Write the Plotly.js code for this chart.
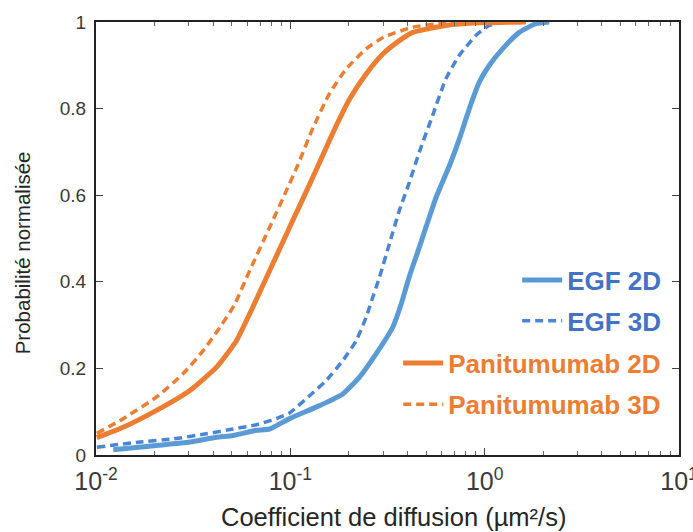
<!DOCTYPE html>
<html>
<head>
<meta charset="utf-8">
<script src="https://cdn.plot.ly/plotly-3.0.1.min.js"></script>
<style>html,body{margin:0;padding:0;background:#fff;}#chart{width:693px;height:532px;}</style>
</head>
<body>
<div id="chart"></div>
<script>
// Diffusion coefficient (µm²/s) and normalized cumulative probability
const egf2dX = [0.01227, 0.0205, 0.0304, 0.0417, 0.0507, 0.0668, 0.0783, 0.0991, 0.1413, 0.1862, 0.227, 0.2767, 0.3365, 0.3715, 0.410, 0.4613, 0.5188, 0.5623, 0.632, 0.668, 0.741, 0.834, 0.938, 1.057, 1.236, 1.507, 1.832, 2.148];
const egf2dY = [0.012, 0.022, 0.030, 0.041, 0.045, 0.057, 0.060, 0.084, 0.114, 0.141, 0.180, 0.234, 0.295, 0.348, 0.413, 0.480, 0.549, 0.595, 0.649, 0.675, 0.730, 0.800, 0.861, 0.900, 0.938, 0.976, 0.996, 1.0];

const egf3dX = [0.0101, 0.0168, 0.0249, 0.037, 0.0507, 0.0668, 0.0847, 0.0991, 0.1256, 0.1531, 0.1862, 0.2183, 0.2455, 0.257, 0.2877, 0.3236, 0.364, 0.410, 0.4613, 0.5395, 0.632, 0.741, 0.9016, 1.057, 1.285];
const egf3dY = [0.018, 0.030, 0.037, 0.049, 0.060, 0.070, 0.084, 0.097, 0.137, 0.172, 0.218, 0.264, 0.318, 0.345, 0.411, 0.488, 0.565, 0.630, 0.700, 0.784, 0.869, 0.923, 0.969, 0.992, 1.0];

const pan2dX = [0.0101, 0.0138, 0.0205, 0.0304, 0.0417, 0.0528, 0.0631, 0.0783, 0.1030, 0.1256, 0.1445, 0.166, 0.2018, 0.2455, 0.2992, 0.364, 0.4266, 0.632, 0.938, 1.63];
const pan2dY = [0.040, 0.064, 0.103, 0.149, 0.203, 0.264, 0.335, 0.426, 0.542, 0.625, 0.685, 0.745, 0.822, 0.880, 0.926, 0.957, 0.976, 0.992, 0.998, 1.0];

const pan3dX = [0.0101, 0.0138, 0.0205, 0.0281, 0.0356, 0.0434, 0.0513, 0.0618, 0.0783, 0.0953, 0.1094, 0.1306, 0.1592, 0.1941, 0.2455, 0.302, 0.4266, 0.632, 1.507];
const pan3dY = [0.050, 0.084, 0.134, 0.188, 0.241, 0.295, 0.345, 0.426, 0.526, 0.610, 0.670, 0.755, 0.835, 0.892, 0.938, 0.965, 0.988, 0.998, 1.0];

const seriesNames = ['EGF 2D', 'EGF 3D', 'Panitumumab 2D', 'Panitumumab 3D'];
const xTickVals = [0.01, 0.1, 1, 10];
const xTickText = ['10<sup>-2</sup>', '10<sup>-1</sup>', '10<sup>0</sup>', '10<sup>1</sup>'];
const yTickVals = [0, 0.2, 0.4, 0.6, 0.8, 1];
const yTickText = ['0', '0.2', '0.4', '0.6', '0.8', '1'];
const xTitle = 'Coefficient de diffusion (µm²/s)';
const yTitle = 'Probabilité normalisée';

const FONT = 'Liberation Sans, Arial, sans-serif';
const BLUE = '#5b9bd5', BLUE_D = '#4a86d4', ORANGE = '#ed7d31';

const traces = [
  {x: egf2dX, y: egf2dY, name: seriesNames[0], mode: 'lines', legend: 'legend',
   line: {color: BLUE, width: 5, shape: 'spline', smoothing: 0.5}},
  {x: egf3dX, y: egf3dY, name: seriesNames[1], mode: 'lines', legend: 'legend2',
   line: {color: BLUE_D, width: 3.5, dash: '8px,5px', shape: 'spline', smoothing: 0.5}},
  {x: pan2dX, y: pan2dY, name: seriesNames[2], mode: 'lines', legend: 'legend3',
   line: {color: ORANGE, width: 5, shape: 'spline', smoothing: 0.5}},
  {x: pan3dX, y: pan3dY, name: seriesNames[3], mode: 'lines', legend: 'legend4',
   line: {color: ORANGE, width: 3.5, dash: '8px,5px', shape: 'spline', smoothing: 0.5}}
];

function leg(y, color) {
  return {x: 0.978, xanchor: 'right', y: y, yanchor: 'middle', bgcolor: 'rgba(0,0,0,0)',
          borderwidth: 0, itemclick: false, itemwidth: 40,
          font: {family: FONT, size: 26, color: color, weight: 'bold'}};
}

const layout = {
  width: 693, height: 532,
  margin: {l: 96, r: 14, t: 22, b: 77},
  paper_bgcolor: '#fff', plot_bgcolor: '#fff',
  font: {family: FONT, color: '#262626'},
  showlegend: true,
  legend: leg(0.404, '#4472c4'),
  legend2: leg(0.310, '#4472c4'),
  legend3: leg(0.212, ORANGE),
  legend4: leg(0.117, ORANGE),
  xaxis: {
    type: 'log', range: [-2, 1], tickvals: xTickVals, ticktext: xTickText,
    showgrid: false, zeroline: false,
    showline: true, linecolor: '#222', linewidth: 2, mirror: 'ticks',
    ticks: 'inside', ticklen: 7, tickcolor: '#444', tickwidth: 1,
    minor: {ticks: 'inside', ticklen: 4, dtick: 'D1', tickcolor: '#666', showgrid: false},
    tickfont: {family: FONT, size: 25, color: '#3a3a3a'},
    ticklabeloverflow: 'allow',
    ticklabelstandoff: 3
  },
  yaxis: {
    range: [0, 1], tickvals: yTickVals, ticktext: yTickText,
    showgrid: false, zeroline: false,
    showline: true, linecolor: '#222', linewidth: 2, mirror: 'ticks',
    ticks: 'inside', ticklen: 7, tickcolor: '#444', tickwidth: 1,
    tickfont: {family: FONT, size: 19, color: '#3a3a3a'},
    ticklabelstandoff: 4
  },
  annotations: [
    {text: xTitle, xref: 'paper', yref: 'paper', x: 0.511, y: -0.144, xanchor: 'center', yanchor: 'middle',
     showarrow: false, font: {family: FONT, size: 25.5, color: '#262626'}},
    {text: yTitle, xref: 'paper', yref: 'paper', x: -0.127, y: 0.468, xanchor: 'center', yanchor: 'middle',
     textangle: -90, showarrow: false, font: {family: FONT, size: 20.5, color: '#262626'}}
  ]
};

Plotly.newPlot('chart', traces, layout, {displayModeBar: false, staticPlot: true});
</script>
</body>
</html>
